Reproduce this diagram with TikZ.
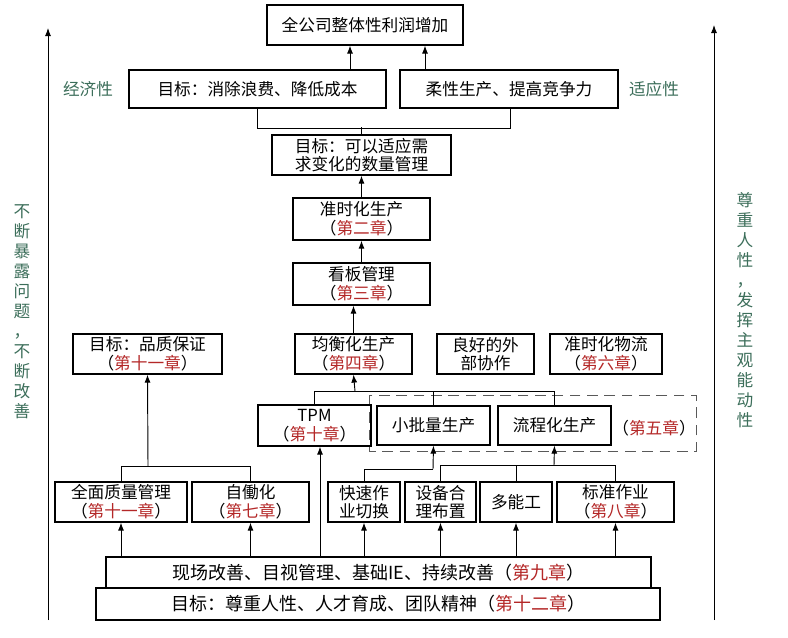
\documentclass[tikz,border=0pt]{standalone}
\usepackage{fontspec}
\setmainfont{Noto Sans CJK SC}
\usetikzlibrary{arrows.meta}
\definecolor{chred}{RGB}{180,40,40}
\definecolor{sidegreen}{RGB}{60,110,90}
\newcommand\ch[1]{（\textcolor{chred}{#1}）}
\newcommand\bx[6]{\node[box,minimum width={(#4-#2)*0.75pt},minimum height={(#5-#3)*0.75pt}] (#1) at ({(#2+#4)/2},{(#3+#5)/2}) {#6};}
\tikzset{
  box/.style={draw,line width=0.9pt,inner sep=0pt,align=center,font=\fontsize{12.5}{14}\selectfont},
  arr/.style={-{Latex[length=6pt,width=4.5pt]},line width=0.7pt},
  ln/.style={line width=0.7pt},
  side/.style={align=center,text=sidegreen,font=\fontsize{12.5}{15}\selectfont,inner sep=0pt},
}
\begin{document}
\begin{tikzpicture}[x=0.75pt,y=-0.75pt]
\useasboundingbox (0,0) rectangle (788,637);
% boxes
\bx{top}{267}{5}{463}{45}{全公司整体性利润增加}
\bx{econ}{129}{70}{386}{108}{目标：消除浪费、降低成本}
\bx{flex}{400}{70}{618}{108}{柔性生产、提高竞争力}
\node[side] (lecon) at (88,89) {经济性};
\node[side] (lflex) at (654,89) {适应性};
\bx{demand}{272}{135}{451}{175}{目标：可以适应需\\求变化的数量管理}
\bx{jit}{293}{198}{430}{240}{准时化生产\\\ch{第二章}}
\bx{kanban}{293}{263}{430}{305}{看板管理\\\ch{第三章}}
\bx{heij}{295}{334}{412}{374}{均衡化生产\\\ch{第四章}}
\bx{good}{437}{334}{534}{374}{良好的外\\部协作}
\bx{logi}{550}{334}{662}{374}{准时化物流\\\ch{第六章}}
\bx{quality}{73}{334}{222}{374}{目标：品质保证\\\ch{第十一章}}
\draw[ln,dashed,dash pattern=on 8pt off 5pt,gray!70!black] (369,395) rectangle (696,451);
\bx{tpm}{258}{405}{371}{446}{TPM\\\ch{第十章}}
\bx{small}{377}{406}{490}{445}{小批量生产}
\bx{flow}{498}{406}{611}{445}{流程化生产}
\node[box,draw=none] (ch5) at (654,428) {\ch{第五章}};
\bx{tqm}{55}{482}{187}{522}{全面质量管理\\\ch{第十一章}}
\bx{jidoka}{192}{482}{309}{522}{自働化\\\ch{第七章}}
\bx{smed}{328}{482}{400}{522}{快速作\\业切换}
\bx{layout}{405}{482}{476}{522}{设备合\\理布置}
\bx{multi}{480}{482}{552}{522}{多能工}
\bx{std}{557}{482}{674}{522}{标准作业\\\ch{第八章}}
\bx{genba}{106}{557}{651}{588}{\fontsize{13.5}{15}\selectfont 现场改善、目视管理、基础IE、持续改善\ch{第九章}}
\bx{goal}{96}{588}{660}{620}{\fontsize{13.5}{15}\selectfont 目标：尊重人性、人才育成、团队精神\ch{第十二章}}
% side texts
\node[side] (lside) at (22,312) {不\\断\\暴\\露\\问\\题\\，\\不\\断\\改\\善};
\node[side] (rside) at (745,310) {尊\\重\\人\\性\\，\\发\\挥\\主\\观\\能\\动\\性};
\coordinate (la) at (48,620); \coordinate (lb) at (48,28);
\coordinate (ra) at (714,620); \coordinate (rb) at (714,25);
\draw[arr] (la) -- (lb);
\draw[arr] (ra) -- (rb);
% top connectors
\coordinate (x350) at (350,0); \coordinate (x425) at (425,0);
\coordinate (x257) at (257,0); \coordinate (x510) at (510,0);
\draw[arr] (econ.north -| x350) -- (top.south -| x350);
\draw[arr] (flex.north -| x425) -- (top.south -| x425);
\draw[ln] (econ.south -| x257) -- ++(0,20) -| (flex.south -| x510);
\draw[ln] (demand.north) -- ++(0,-7);
\draw[arr] (jit.north) -- (demand.south);
\draw[arr] (kanban.north) -- (jit.south);
\draw[arr] (heij.north) -- (heij.north |- kanban.south);
% middle bracket
\coordinate (m1) at (355,391);
\draw[ln] (tpm.north) -- (tpm.north |- m1) -| (flow.north);
\draw[ln] (small.north) -- (small.north |- m1);
\draw[arr] (m1) -- (heij.south);
% lower brackets
\coordinate (s1) at (433,469); \coordinate (f1) at (554,465);
\draw[ln] (smed.north) |- (s1);
\draw[arr] (s1) -- (small.south);
\draw[ln] (layout.north) |- (std.north |- f1) -- (std.north);
\draw[ln] (multi.north) -- (multi.north |- f1);
\draw[arr] (f1) -- (flow.south);
\coordinate (q1) at (148,466);
\draw[ln] (tqm.north) |- (jidoka.north |- q1) -- (jidoka.north);
\draw[arr] (q1) -- (quality.south);
% genba arrows
\coordinate (t1) at (320,0);
\foreach \b in {tqm,jidoka,smed,layout,multi,std} \draw[arr] (genba.north -| \b.south) -- (\b.south);
\draw[arr] (genba.north -| t1) -- (tpm.south -| t1);
\end{tikzpicture}
\end{document}
